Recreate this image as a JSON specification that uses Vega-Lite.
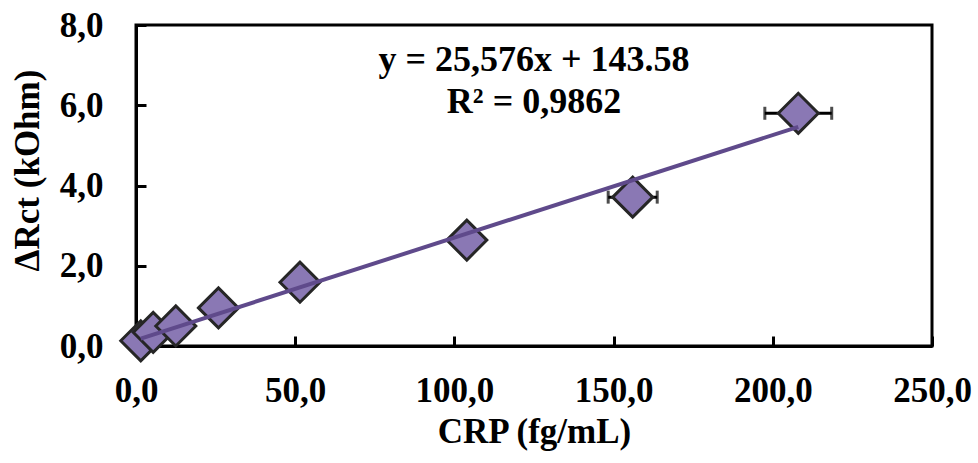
{
  "$schema": "https://vega.github.io/schema/vega-lite/v6.json",
  "width": 796,
  "height": 321,
  "autosize": {"type": "none"},
  "padding": {"left": 136, "top": 25, "right": 46, "bottom": 117},
  "background": "white",
  "config": {
    "view": {"stroke": "black", "strokeWidth": 3},
    "font": "Liberation Serif",
    "axis": {
      "grid": false,
      "domainColor": "black",
      "domainWidth": 3,
      "tickColor": "black",
      "tickWidth": 3,
      "tickSize": -10,
      "labelFlush": false,
      "labelOverlap": false,
      "labelFont": "Liberation Serif",
      "labelFontWeight": "bold",
      "labelFontSize": 35,
      "labelColor": "black",
      "titleFont": "Liberation Serif",
      "titleFontWeight": "bold",
      "titleFontSize": 35,
      "titleColor": "black"
    }
  },
  "datasets": {
    "pts": [
      {"crp": 1.5, "drct": 0.13, "err": 0},
      {"crp": 5.4, "drct": 0.34, "err": 0},
      {"crp": 12.5, "drct": 0.5, "err": 0},
      {"crp": 25.9, "drct": 0.95, "err": 0},
      {"crp": 51.5, "drct": 1.59, "err": 0},
      {"crp": 103.9, "drct": 2.64, "err": 0},
      {"crp": 156, "drct": 3.71, "err": 7.7},
      {"crp": 208, "drct": 5.8, "err": 10.5}
    ],
    "trend": [
      {"crp": 1.5, "drct": 0.182},
      {"crp": 208, "drct": 5.463}
    ],
    "eq": [
      {"crp": 125, "drct": 7.13, "label": "y = 25,576x + 143.58"},
      {"crp": 125, "drct": 6.08, "label": "R² = 0,9862"}
    ]
  },
  "layer": [
    {
      "data": {"name": "pts"},
      "transform": [{"filter": "datum.err > 0"}, {"calculate": "datum.crp - datum.err", "as": "lo"}, {"calculate": "datum.crp + datum.err", "as": "hi"}],
      "layer": [
        {
          "mark": {"type": "rule", "color": "black", "strokeWidth": 3},
          "encoding": {
            "x": {
              "field": "lo", "type": "quantitative",
              "scale": {"domain": [0, 250], "nice": false},
              "axis": {
                "values": [0, 50, 100, 150, 200, 250],
                "labelExpr": "replace(format(datum.value, '.1f'), '.', ',')",
                "labelPadding": 37,
                "titlePadding": 6,
                "title": "CRP (fg/mL)"
              }
            },
            "x2": {"field": "hi"},
            "y": {
              "field": "drct", "type": "quantitative",
              "scale": {"domain": [0, 8], "nice": false},
              "axis": {
                "values": [0, 2, 4, 6, 8],
                "labelExpr": "replace(format(datum.value, '.1f'), '.', ',')",
                "labelPadding": 43,
                "titlePadding": 14,
                "titleY": 145,
                "title": "ΔRct (kOhm)"
              }
            }
          }
        },
        {
          "mark": {"type": "tick", "orient": "vertical", "color": "black", "thickness": 3, "size": 13},
          "encoding": {
            "x": {"field": "lo", "type": "quantitative"},
            "y": {"field": "drct", "type": "quantitative"}
          }
        },
        {
          "mark": {"type": "tick", "orient": "vertical", "color": "black", "thickness": 3, "size": 13},
          "encoding": {
            "x": {"field": "hi", "type": "quantitative"},
            "y": {"field": "drct", "type": "quantitative"}
          }
        }
      ]
    },
    {
      "data": {"name": "pts"},
      "mark": {"type": "point", "shape": "diamond", "filled": true, "fill": "#8a78b4", "stroke": "#262626", "strokeWidth": 3, "size": 1600, "opacity": 1, "clip": false},
      "encoding": {
        "x": {"field": "crp", "type": "quantitative"},
        "y": {"field": "drct", "type": "quantitative"}
      }
    },
    {
      "data": {"name": "trend"},
      "mark": {"type": "line", "color": "#5f4a8b", "strokeWidth": 4},
      "encoding": {
        "x": {"field": "crp", "type": "quantitative"},
        "y": {"field": "drct", "type": "quantitative"}
      }
    },
    {
      "data": {"name": "eq"},
      "mark": {"type": "text", "font": "Liberation Serif", "fontWeight": "bold", "fontSize": 36, "color": "black", "align": "center", "baseline": "middle"},
      "encoding": {
        "x": {"field": "crp", "type": "quantitative"},
        "y": {"field": "drct", "type": "quantitative"},
        "text": {"field": "label"}
      }
    }
  ]
}
